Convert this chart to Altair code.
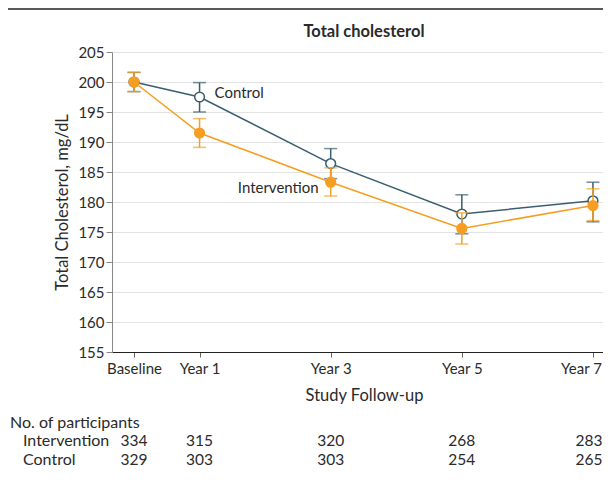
import altair as alt
import pandas as pd

years = [0, 1, 3, 5, 7]
year_labels = ["Baseline", "Year 1", "Year 3", "Year 5", "Year 7"]

ctrl_mean = [200.0, 197.5, 186.4, 178.0, 180.2]
ctrl_lo = [198.4, 195.0, 183.9, 174.7, 176.7]
ctrl_hi = [201.6, 199.9, 188.9, 181.2, 183.3]

int_mean = [200.0, 191.5, 183.3, 175.6, 179.4]
int_lo = [198.4, 189.1, 181.0, 173.0, 176.9]
int_hi = [201.6, 193.9, 185.7, 178.2, 182.2]

n_int = [334, 315, 320, 268, 283]
n_ctrl = [329, 303, 303, 254, 265]

FONT = "Lato"
C_CTRL = "#3a5e6e"
C_INT = "#f59e22"
TXT = "#2a2a2a"

ctrl = pd.DataFrame({"year": years, "mean": ctrl_mean, "lo": ctrl_lo, "hi": ctrl_hi, "n": n_ctrl})
intv = pd.DataFrame({"year": years, "mean": int_mean, "lo": int_lo, "hi": int_hi, "n": n_int})
one = pd.DataFrame({"k": [0]})

label_js = "{" + ",".join(f"'{y}':'{l}'" for y, l in zip(years, year_labels)) + "}"
last_year = years[-1]

W, H = 491, 300
xs = alt.Scale(domain=[-0.3355, 7.153], nice=False, zero=False)
ys = alt.Scale(domain=[155, 205], nice=False, zero=False)

x_axis = alt.Axis(values=years, labelExpr=f"{label_js}[datum.value]", grid=False,
                  title="Study Follow-up", tickSize=5, labelPadding=4,
                  labelOffset={"condition": {"test": f"datum.value == {last_year}", "value": -12},
                               "value": 0},
                  titleX=252, titleY=43, titleBaseline="middle", titleAlign="center",
                  domainColor="#222", tickColor="#666", labelColor=TXT, titleColor=TXT,
                  labelFontSize=15, titleFontSize=16.5, labelFont=FONT, titleFont=FONT,
                  titleFontWeight="normal", labelFlush=False, labelOverlap=False)
y_axis = alt.Axis(values=list(range(155, 206, 5)), grid=True, gridColor="#e3e3e3",
                  title="Total Cholesterol, mg/dL", tickSize=6, labelPadding=2,
                  titleX=-50, titleY=150, titleBaseline="middle", titleAlign="center",
                  titleAngle=270,
                  domainColor="#888", tickColor="#888", labelColor=TXT, titleColor=TXT,
                  labelFontSize=15, titleFontSize=16.5, labelFont=FONT, titleFont=FONT,
                  titleFontWeight="normal", labelFlush=False, labelOverlap=False)

X = alt.X("year:Q", scale=xs, axis=x_axis)


def series(df, color, filled):
    base = alt.Chart(df)
    line = base.mark_line(color=color, strokeWidth=1.5).encode(
        x=X, y=alt.Y("mean:Q", scale=ys, axis=y_axis))
    bar = base.mark_rule(color=color, strokeWidth=1.5).encode(
        x=X, y=alt.Y("lo:Q", scale=ys, axis=y_axis), y2="hi:Q")
    cap_lo = base.mark_tick(color=color, orient="horizontal", size=13, thickness=1.5).encode(
        x=X, y=alt.Y("lo:Q", scale=ys, axis=y_axis))
    cap_hi = base.mark_tick(color=color, orient="horizontal", size=13, thickness=1.5).encode(
        x=X, y=alt.Y("hi:Q", scale=ys, axis=y_axis))
    pts = base.mark_point(shape="circle", size=95, filled=True,
                          fill=color if filled else "white", stroke=color,
                          strokeWidth=1.5, opacity=1).encode(
        x=X, y=alt.Y("mean:Q", scale=ys, axis=y_axis))
    return [line, bar, cap_lo, cap_hi, pts]


layers = series(ctrl, C_CTRL, False) + series(intv, C_INT, True)

lab_ctrl = alt.Chart(ctrl[ctrl.year == 1]).mark_text(
    text="Control", align="left", baseline="middle", dx=15, dy=-4,
    font=FONT, fontSize=15, color=TXT).encode(
    x=X, y=alt.Y("mean:Q", scale=ys, axis=y_axis))
lab_int = alt.Chart(intv[intv.year == 3]).mark_text(
    text="Intervention", align="right", baseline="middle", dx=-12, dy=6,
    font=FONT, fontSize=15, color=TXT).encode(
    x=X, y=alt.Y("mean:Q", scale=ys, axis=y_axis))


def n_row(df, ypos):
    inner = alt.Chart(df[df.year < last_year]).mark_text(
        align="center", baseline="middle", font=FONT, fontSize=15.5, color=TXT).encode(
        x=X, y=alt.value(ypos), text="n:Q")
    edge = alt.Chart(df[df.year == last_year]).mark_text(
        align="center", baseline="middle", font=FONT, fontSize=15.5, color=TXT, dx=-4).encode(
        x=X, y=alt.value(ypos), text="n:Q")
    return [inner, edge]


n_layers = n_row(intv, 389) + n_row(ctrl, 408)


def fixed_text(t, x, y, size=16, weight="normal", align="left"):
    return alt.Chart(one).mark_text(font=FONT, fontSize=size, fontWeight=weight, color=TXT,
                                    align=align, baseline="middle").encode(
        x=alt.value(x), y=alt.value(y), text=alt.value(t))


head1 = fixed_text("No. of participants", -102, 371)
head2 = fixed_text("Intervention", -89, 389)
head3 = fixed_text("Control", -89, 408)
title = fixed_text("Total cholesterol", 252, -20, size=16.5, weight="bold", align="center")

top_rule = alt.Chart(one).mark_rule(color="#222", strokeWidth=1.5).encode(
    x=alt.value(-104), x2=alt.value(W), y=alt.value(-43))

chart = alt.layer(*layers, lab_ctrl, lab_int, *n_layers,
                  head1, head2, head3, title, top_rule).properties(
    width=W, height=H,
    autosize=alt.AutoSizeParams(type="none"),
    padding={"left": 104, "top": 44, "right": 0, "bottom": 123},
).configure_view(stroke=None)

chart.save("out.html", embed_options={"renderer": "svg", "actions": False})
